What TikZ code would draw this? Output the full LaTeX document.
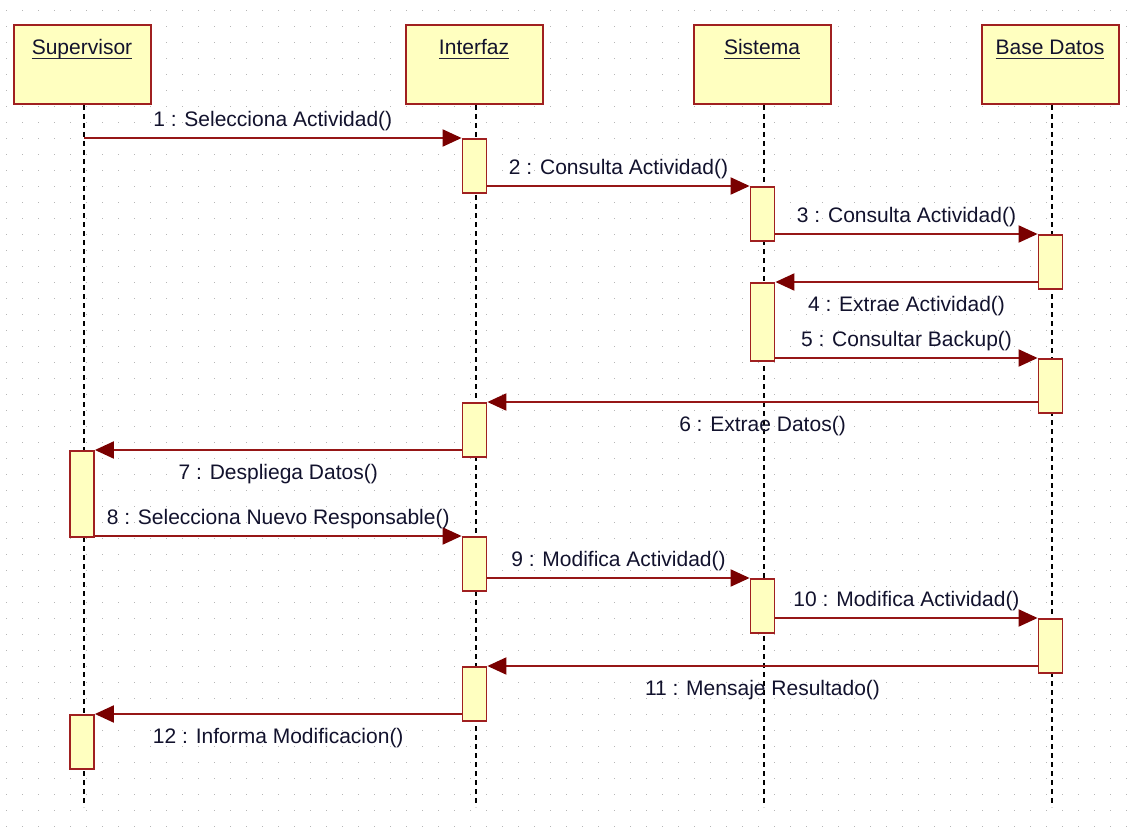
\documentclass[tikz,border=0pt]{standalone}
\usepackage{fontspec}
\setmainfont{Liberation Sans}
\usetikzlibrary{arrows.meta}

\definecolor{boxfill}{RGB}{255,255,192}
\definecolor{boxline}{RGB}{160,32,32}
\definecolor{msgline}{RGB}{150,22,22}
\definecolor{tipfill}{RGB}{122,0,0}
\definecolor{txt}{RGB}{18,18,45}
\definecolor{dotc}{RGB}{182,182,182}

\tikzset{
  headbox/.style={draw=boxline, line width=2pt, fill=boxfill, minimum width=137pt,
    minimum height=79pt, inner sep=0pt},
  headtext/.style={inner sep=0pt, anchor=base, text=txt},
  uline/.style={draw=txt!85!gray, line width=1.5pt},
  actbox/.style={draw=boxline, line width=1.8pt, fill=boxfill, minimum width=24pt,
    inner sep=0pt, anchor=north},
  lifeline/.style={draw=black, line width=2pt, dash pattern=on 5pt off 4pt},
  msg/.style={draw=msgline, line width=2pt,
    -{Triangle[length=19pt,width=17pt,fill=tipfill,color=tipfill]}},
  above lbl/.style={midway, anchor=base, yshift=11.5pt, inner sep=0pt, text=txt},
  below lbl/.style={midway, anchor=base, yshift=-29.5pt, inner sep=0pt, text=txt},
}

\begin{document}
\begin{tikzpicture}[x=1pt, y=-1pt, font=\fontsize{21}{25}\selectfont]
  % canvas and dotted grid
  \fill[white] (0,0) rectangle (1133,840);
  \useasboundingbox (0,0) rectangle (1133,840);
  \foreach \i in {0,...,70}{
    \foreach \j in {0,...,51}{
      \fill[dotc] ({6.5+16*\i-0.9},{10.5+16*\j-0.9}) rectangle ++(1.8,1.8);
    }
  }

  % object headers
  \node[headbox] (sup) at (82,64.5) {};
  \node[headbox] (int) at (474,64.5) {};
  \node[headbox] (sis) at (762,64.5) {};
  \node[headbox] (bd)  at (1050,64.5) {};

  \node[headtext] (supL) at (82,55) {Supervisor};
  \node[headtext] (intL) at (474,55) {Interfaz};
  \node[headtext] (sisL) at (762,55) {Sistema};
  \node[headtext] (bdL)  at (1050,55) {Base Datos};
  \foreach \n in {supL,intL,sisL,bdL}{
    \draw[uline] ([yshift=-3.5pt]\n.base west) -- ([yshift=-3.5pt]\n.base east);
  }

  % lifelines
  \coordinate (supE) at (84,807);
  \coordinate (intE) at (476,807);
  \coordinate (sisE) at (764,807);
  \coordinate (bdE)  at (1052,807);
  \draw[lifeline] (sup.south -| supE) -- (supE);
  \draw[lifeline] (int.south -| intE) -- (intE);
  \draw[lifeline] (sis.south -| sisE) -- (sisE);
  \draw[lifeline] (bd.south -| bdE)  -- (bdE);

  % activation bars
  \node[actbox, minimum height=54pt] (I1) at (474.5,138) {};
  \node[actbox, minimum height=54pt] (S1) at (762.5,186) {};
  \node[actbox, minimum height=54pt] (B1) at (1050.5,234) {};
  \node[actbox, minimum height=78pt] (S2) at (762.5,282) {};
  \node[actbox, minimum height=54pt] (B2) at (1050.5,358) {};
  \node[actbox, minimum height=54pt] (I2) at (474.5,402) {};
  \node[actbox, minimum height=86pt] (V1) at (82,450) {};
  \node[actbox, minimum height=54pt] (I3) at (474.5,536) {};
  \node[actbox, minimum height=54pt] (S3) at (762.5,578) {};
  \node[actbox, minimum height=54pt] (B3) at (1050.5,618) {};
  \node[actbox, minimum height=54pt] (I4) at (474.5,666) {};
  \node[actbox, minimum height=54pt] (V2) at (82,714) {};

  % messages
  \coordinate (m1) at (84,138);
  \draw[msg] (m1) -- (I1.north west) node[above lbl] {1 : Selecciona Actividad()};
  \draw[msg] (I1.east |- S1.north) -- (S1.north west) node[above lbl] {2 : Consulta Actividad()};
  \draw[msg] (S1.east |- B1.north) -- (B1.north west) node[above lbl] {3 : Consulta Actividad()};
  \draw[msg] (B1.west |- S2.north) -- (S2.north east) node[below lbl] {4 : Extrae Actividad()};
  \draw[msg] (S2.east |- B2.north) -- (B2.north west) node[above lbl] {5 : Consultar Backup()};
  \draw[msg] (B2.west |- I2.north) -- (I2.north east) node[below lbl] {6 : Extrae Datos()};
  \draw[msg] (I2.west |- V1.north) -- (V1.north east) node[below lbl] {7 : Despliega Datos()};
  \draw[msg] (V1.east |- I3.north) -- (I3.north west) node[above lbl] {8 : Selecciona Nuevo Responsable()};
  \draw[msg] (I3.east |- S3.north) -- (S3.north west) node[above lbl] {9 : Modifica Actividad()};
  \draw[msg] (S3.east |- B3.north) -- (B3.north west) node[above lbl] {10 : Modifica Actividad()};
  \draw[msg] (B3.west |- I4.north) -- (I4.north east) node[below lbl] {11 : Mensaje Resultado()};
  \draw[msg] (I4.west |- V2.north) -- (V2.north east) node[below lbl] {12 : Informa Modificacion()};
\end{tikzpicture}
\end{document}
